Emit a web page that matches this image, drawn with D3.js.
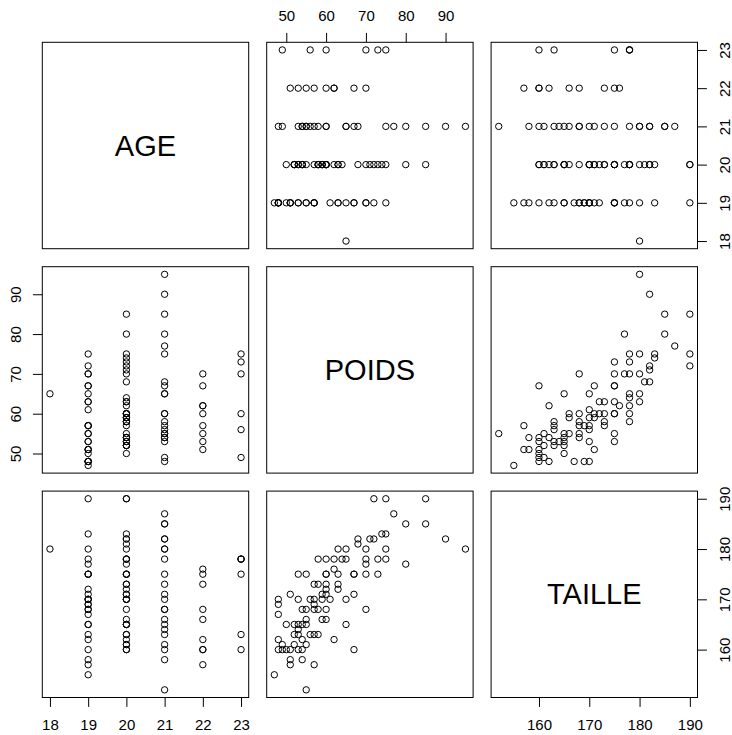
<!DOCTYPE html>
<html><head><meta charset="utf-8">
<script src="https://cdn.jsdelivr.net/npm/d3@7/dist/d3.min.js"></script>
<style>body{margin:0;background:#fff}svg{display:block}</style>
</head><body>
<script>
const varNames = ["AGE", "POIDS", "TAILLE"];
const age = [19,20,20,21,21,21,21,21,21,20,20,20,20,19,19,18,20,21,20,23,20,20,21,19,23,23,19,20,22,19,22,21,20,20,19,19,23,20,22,21,20,20,20,19,20,20,19,19,19,20,21,20,20,19,19,21,19,19,21,19,19,21,20,22,21,20,22,19,20,20,20,19,21,20,19,21,23,21,20,19,20,22,21,20,20,21,23,20,19,22,20,22,19,22,21,19,19,21];
const poids = [72,75,85,77,80,85,90,95,68,68,71,72,74,75,63,65,70,75,58,60,62,64,65,70,73,75,70,80,62,53,55,60,60,63,67,67,70,73,57,60,58,60,63,63,59,60,48,48,51,53,56,57,59,61,65,67,57,48,54,55,57,58,60,70,55,59,60,50,52,53,54,55,65,52,53,53,56,57,58,48,54,62,49,52,55,48,49,50,51,53,54,67,51,51,54,57,47,55];
const taille = [190,190,190,187,185,185,182,180,182,181,182,182,183,183,180,180,180,180,178,178,178,178,178,178,178,178,177,177,176,175,175,175,175,175,175,175,175,175,173,173,173,172,173,172,171,171,170,169,171,170,170,170,170,170,170,171,169,167,168,168,168,168,168,168,166,166,166,165,165,165,165,165,165,163,163,164,163,163,163,162,162,162,161,161,161,160,160,160,160,160,160,160,158,157,158,157,155,152];
const ageTicks = [18, 19, 20, 21, 22, 23];
const poidsTicks = [50, 60, 70, 80, 90];
const tailleTicks = [160, 170, 180, 190];

const columns = [age, poids, taille];
const ticks = [ageTicks, poidsTicks, tailleTicks];

const W = 732, H = 735;
const leftM = 42.3, topM = 42.3, size = 206.4, gap = 18;
const tickLen = 9.4, labOff = 27;
const font = '"Liberation Sans", Arial, Helvetica, sans-serif';

const svg = d3.select("body").append("svg").attr("width", W).attr("height", H)
  .style("background", "#fff");

function padded(v) {
  const [a, b] = d3.extent(v);
  const r = b - a;
  return [a - 0.04 * r, b + 0.04 * r];
}
const xs = columns.map(v => d3.scaleLinear().domain(padded(v)).range([0, size]));
const ys = columns.map(v => d3.scaleLinear().domain(padded(v)).range([size, 0]));

function drawAxis(g, ax, kind, v) {
  const a = g.append("g");
  if (kind === "bottom") a.attr("transform", `translate(0,${size})`);
  if (kind === "right") a.attr("transform", `translate(${size},0)`);
  ax.tickValues(ticks[v]).tickSize(tickLen).tickSizeOuter(0).tickFormat(d3.format("d"));
  a.call(ax);
  a.select(".domain").remove();
  a.selectAll(".tick line").attr("stroke", "#000").attr("stroke-width", 1);
  const t = a.selectAll(".tick text").attr("fill", "#000")
    .attr("font-family", font).attr("font-size", 15).attr("text-anchor", "middle");
  if (kind === "bottom") t.attr("y", labOff).attr("dy", "0.35em");
  if (kind === "top") t.attr("y", -labOff).attr("dy", "0.35em");
  if (kind === "left") t.attr("x", null).attr("y", null).attr("dy", "0.35em")
    .attr("transform", `translate(${-labOff},0) rotate(-90)`);
  if (kind === "right") t.attr("x", null).attr("y", null).attr("dy", "0.35em")
    .attr("transform", `translate(${labOff},0) rotate(-90)`);
}

const n = 3;
for (let i = 0; i < n; i++) {
  for (let j = 0; j < n; j++) {
    const g = svg.append("g")
      .attr("transform", `translate(${leftM + j * (size + gap)},${topM + i * (size + gap)})`);
    if (i === j) {
      g.append("text").attr("x", size / 2).attr("y", size / 2).attr("dy", "0.35em")
        .attr("text-anchor", "middle").attr("font-family", font).attr("font-size", 29)
        .text(varNames[i]);
    } else {
      const pts = d3.range(age.length).map(k => [columns[j][k], columns[i][k]]);
      g.selectAll("circle").data(pts).join("circle")
        .attr("cx", d => xs[j](d[0])).attr("cy", d => ys[i](d[1]))
        .attr("r", 3.2).attr("fill", "none").attr("stroke", "#000").attr("stroke-width", 1);
    }
    g.append("rect").attr("x", 0).attr("y", 0).attr("width", size).attr("height", size)
      .attr("fill", "none").attr("stroke", "#000").attr("stroke-width", 1);

    if (i === 0 && j % 2 === 1) drawAxis(g, d3.axisTop(xs[j]), "top", j);
    if (i === n - 1 && j % 2 === 0) drawAxis(g, d3.axisBottom(xs[j]), "bottom", j);
    if (j === 0 && i % 2 === 1) drawAxis(g, d3.axisLeft(ys[i]), "left", i);
    if (j === n - 1 && i % 2 === 0) drawAxis(g, d3.axisRight(ys[i]), "right", i);
  }
}
</script>
</body></html>
